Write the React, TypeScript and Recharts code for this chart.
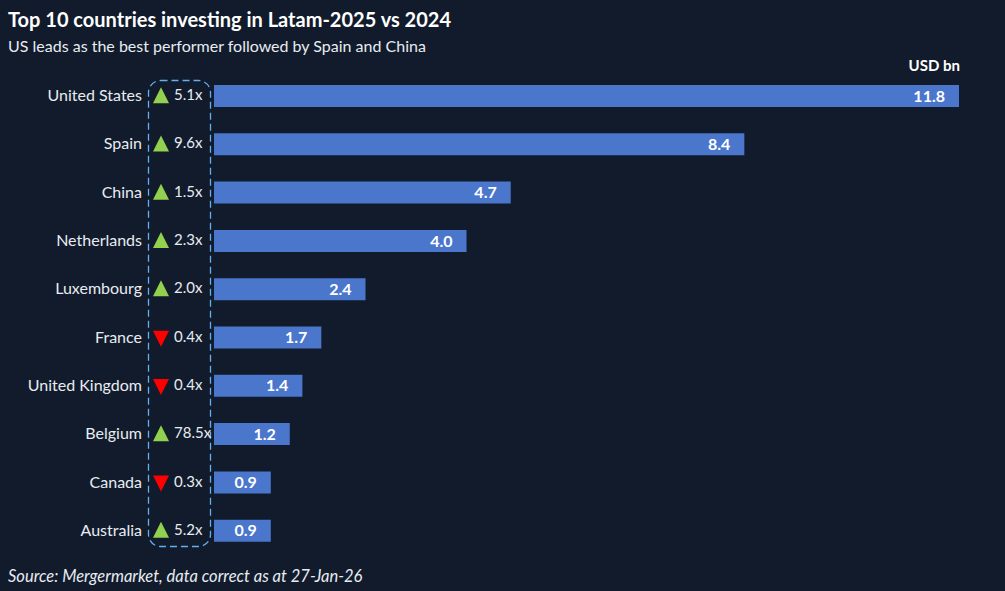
import React from 'react';
import { BarChart, Bar, XAxis, YAxis, LabelList } from 'recharts';

const countries = [
  'United States',
  'Spain',
  'China',
  'Netherlands',
  'Luxembourg',
  'France',
  'United Kingdom',
  'Belgium',
  'Canada',
  'Australia'
];
const values2025 = [11.8, 8.4, 4.7, 4.0, 2.4, 1.7, 1.4, 1.2, 0.9, 0.9];
const multipliers = ['5.1x', '9.6x', '1.5x', '2.3x', '2.0x', '0.4x', '0.4x', '78.5x', '0.3x', '5.2x'];
const trends = ['up', 'up', 'up', 'up', 'up', 'down', 'down', 'up', 'down', 'up'];

const BG = '#111b2b';
const BAR = '#4a76cc';
const FONT = "'Lato', 'Noto Sans', sans-serif";

const data = countries.map((name, i) => ({
  name,
  value: values2025[i],
  mult: multipliers[i],
  trend: trends[i]
}));

const CountryTick = (props: any) => {
  const { y, payload, index } = props;
  const up = trends[index] === 'up';
  const cx = 161;
  return (
    <g>
      <text x={142} y={y} dy={5} textAnchor="end" fill="#e8ecf2" fontSize={16} fontFamily={FONT}>
        {payload.value}
      </text>
      {up ? (
        <path d={`M${cx - 8},${y + 7} L${cx + 8},${y + 7} L${cx},${y - 9} Z`} fill="#92d050" />
      ) : (
        <path d={`M${cx - 8},${y - 7} L${cx + 8},${y - 7} L${cx},${y + 9} Z`} fill="#ff0000" />
      )}
      <text x={174} y={y} dy={4} textAnchor="start" fill="#e8ecf2" fontSize={15} fontFamily={FONT}>
        {multipliers[index]}
      </text>
    </g>
  );
};

export default function App() {
  return (
    <div
      style={{
        position: 'absolute',
        left: 0,
        top: 0,
        width: 1005,
        height: 591,
        background: BG,
        fontFamily: FONT,
        overflow: 'hidden'
      }}
    >
      <div style={{ position: 'absolute', left: 8, top: 7, color: '#ffffff', fontSize: 20, fontWeight: 700 }}>
        Top 10 countries investing in Latam-2025 vs 2024
      </div>
      <div style={{ position: 'absolute', left: 8, top: 36, color: '#e8ecf2', fontSize: 16 }}>
        US leads as the best performer followed by Spain and China
      </div>
      <div
        style={{
          position: 'absolute',
          right: 45,
          top: 56,
          color: '#ffffff',
          fontSize: 15,
          fontWeight: 700
        }}
      >
        USD bn
      </div>
      {/* dashed highlight round the growth multipliers */}
      <svg style={{ position: 'absolute', left: 0, top: 0 }} width={1005} height={591}>
        <rect
          x={148.5}
          y={80.5}
          width={62}
          height={466}
          rx={12}
          fill="none"
          stroke="#63b0f0"
          strokeWidth={1.3}
          strokeDasharray="7 4"
        />
      </svg>
      <div style={{ position: 'absolute', left: 0, top: 0 }}>
        <BarChart
          width={1005}
          height={591}
          data={data}
          layout="vertical"
          margin={{ top: 72, right: 46, bottom: 36, left: 0 }}
          barCategoryGap={13}
        >
          <XAxis type="number" domain={[0, 11.8]} hide />
          <YAxis
            type="category"
            dataKey="name"
            width={214}
            axisLine={false}
            tickLine={false}
            interval={0}
            tick={<CountryTick />}
          />
          <Bar dataKey="value" fill={BAR} isAnimationActive={false}>
            <LabelList
              dataKey="value"
              position="insideRight"
              offset={14}
              fill="#ffffff"
              fontSize={16}
              fontWeight={700}
              fontFamily={FONT}
              formatter={(v: any) => Number(v).toFixed(1)}
            />
          </Bar>
        </BarChart>
      </div>
      <div
        style={{
          position: 'absolute',
          left: 8,
          top: 566,
          color: '#e8ecf2',
          fontSize: 16.5,
          fontStyle: 'italic'
        }}
      >
        Source: Mergermarket, data correct as at 27-Jan-26
      </div>
    </div>
  );
}
